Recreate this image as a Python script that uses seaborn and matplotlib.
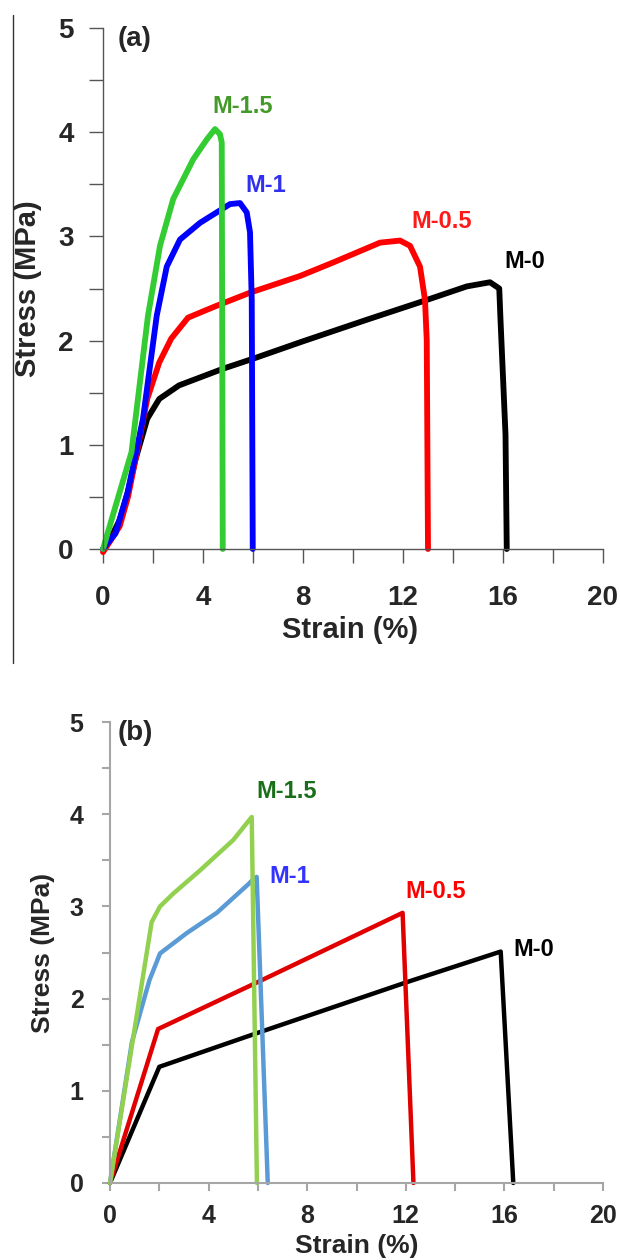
import numpy as np
import pandas as pd
import matplotlib
matplotlib.use("Agg")
import matplotlib.pyplot as plt
from matplotlib.lines import Line2D
import seaborn as sns

# ---------------- data: panel (a) ----------------
a_m0_strain = [0, 0.3, 0.67, 1.0, 1.3, 1.77, 2.25, 3.04, 4.8, 6.05, 7.96, 10.55, 12.95, 14.55, 15.48, 15.85, 15.9, 16.1, 16.15]
a_m0_stress = [0, 0.1, 0.28, 0.55, 0.86, 1.25, 1.44, 1.57, 1.73, 1.83, 1.99, 2.20, 2.39, 2.52, 2.56, 2.5, 2.2, 1.1, 0]

a_m05_strain = [0, 0.3, 0.67, 1.0, 1.3, 1.77, 2.25, 2.73, 3.4, 4.5, 5.88, 7.88, 9.21, 11.08, 11.88, 12.28, 12.68, 12.88, 12.95, 13.0]
a_m05_stress = [-0.03, 0.08, 0.22, 0.5, 0.86, 1.44, 1.79, 2.02, 2.22, 2.33, 2.46, 2.62, 2.75, 2.94, 2.96, 2.91, 2.71, 2.39, 2.0, 0]

a_m1_strain = [0, 0.5, 0.98, 1.3, 1.6, 2.15, 2.55, 3.08, 3.88, 5.08, 5.48, 5.75, 5.88, 5.95, 5.99]
a_m1_stress = [0, 0.15, 0.54, 0.9, 1.25, 2.24, 2.71, 2.97, 3.13, 3.31, 3.32, 3.23, 3.04, 2.39, 0]

a_m15_strain = [0, 0.5, 1.14, 1.8, 2.28, 2.81, 3.61, 4.15, 4.48, 4.68, 4.75, 4.79]
a_m15_stress = [0, 0.41, 0.93, 2.24, 2.91, 3.36, 3.74, 3.93, 4.03, 3.98, 3.9, 0]

# ---------------- data: panel (b) ----------------
b_m0_strain = [0, 2.0, 5.9, 12.06, 15.85, 16.36]
b_m0_stress = [0, 1.26, 1.62, 2.18, 2.51, 0]

b_m05_strain = [0, 1.95, 6.0, 11.87, 12.31]
b_m05_stress = [0, 1.67, 2.18, 2.93, 0]

b_m1_strain = [0, 0.89, 1.6, 2.03, 3.11, 4.33, 5.61, 5.72, 5.95, 6.4]
b_m1_stress = [0, 1.53, 2.2, 2.49, 2.71, 2.93, 3.24, 3.27, 3.32, 0]

b_m15_strain = [0, 1.69, 2.03, 2.57, 3.65, 5.0, 5.75, 5.96]
b_m15_stress = [0, 2.83, 3.0, 3.14, 3.39, 3.72, 3.97, 0]

samples = ["M-0", "M-0.5", "M-1", "M-1.5"]
x_ticks_major = [0, 4, 8, 12, 16, 20]
y_ticks_major = [0, 1, 2, 3, 4, 5]

colors_a = {"M-0": "#000000", "M-0.5": "#ff0000", "M-1": "#0000ff", "M-1.5": "#33cc33"}
text_colors_a = {"M-0": "#000000", "M-0.5": "#ff1a1a", "M-1": "#3030ee", "M-1.5": "#449a28"}
label_pos_a = {"M-0": (16.88, 2.76), "M-0.5": (13.55, 3.14), "M-1": (6.52, 3.49), "M-1.5": (5.6, 4.25)}

colors_b = {"M-0": "#000000", "M-0.5": "#e00000", "M-1": "#5b9bd5", "M-1.5": "#92d050"}
text_colors_b = {"M-0": "#000000", "M-0.5": "#ff0000", "M-1": "#3333ff", "M-1.5": "#1a6e1a"}
label_pos_b = {"M-0": (17.2, 2.53), "M-0.5": (13.22, 3.16), "M-1": (7.28, 3.32), "M-1.5": (7.16, 4.25)}


def make_df(series):
    frames = []
    for name, (xs, ys) in series.items():
        frames.append(pd.DataFrame({"strain": xs, "stress": ys, "sample": name,
                                    "order": np.arange(len(xs))}))
    return pd.concat(frames, ignore_index=True)


df_a = make_df({"M-0": (a_m0_strain, a_m0_stress), "M-0.5": (a_m05_strain, a_m05_stress),
                "M-1": (a_m1_strain, a_m1_stress), "M-1.5": (a_m15_strain, a_m15_stress)})
df_b = make_df({"M-0": (b_m0_strain, b_m0_stress), "M-0.5": (b_m05_strain, b_m05_stress),
                "M-1": (b_m1_strain, b_m1_stress), "M-1.5": (b_m15_strain, b_m15_stress)})

sns.set_theme(style="white")
plt.rcParams["font.family"] = ["Liberation Sans", "DejaVu Sans"]
plt.rcParams["font.weight"] = "bold"

W, H = 620, 1260
fig = plt.figure(figsize=(W / 100, H / 100), dpi=100)


def px_axes(left, top, right, bottom):
    return fig.add_axes([left / W, 1 - bottom / H, (right - left) / W, (bottom - top) / H])


ax_a = px_axes(103, 28, 603, 549)
ax_b = px_axes(110, 722, 603, 1183)


def style_axis(ax, spine_color, spine_w, tick_len, tick_fs, xpad, ypad):
    ax.set_xlim(0, 20)
    ax.set_ylim(0, 5)
    ax.set_xticks(x_ticks_major)
    ax.set_xticks([2, 6, 10, 14, 18], minor=True)
    ax.set_yticks(y_ticks_major)
    ax.set_yticks([0.5, 1.5, 2.5, 3.5, 4.5], minor=True)
    for s in ["top", "right"]:
        ax.spines[s].set_visible(False)
    for s in ["left", "bottom"]:
        ax.spines[s].set_color(spine_color)
        ax.spines[s].set_linewidth(spine_w)
    ax.tick_params(axis="both", which="both", direction="out", length=tick_len,
                   width=spine_w, color=spine_color, bottom=True, left=True)
    ax.tick_params(axis="x", which="major", pad=xpad, labelsize=tick_fs)
    ax.tick_params(axis="y", which="major", pad=ypad, labelsize=tick_fs)
    for lab in ax.get_xticklabels() + ax.get_yticklabels():
        lab.set_fontweight("bold")
    ax.set_facecolor("white")
    ax.grid(False)


# Panel (a)
sns.lineplot(data=df_a, x="strain", y="stress", hue="sample", palette=colors_a,
             hue_order=samples, units="sample", estimator=None, sort=False,
             linewidth=4.2, legend=False, ax=ax_a, clip_on=False)
style_axis(ax_a, "#555555", 1.0, 10, 20, 16, 11)
ax_a.set_xlabel("Strain (%)", fontsize=21, fontweight="bold")
ax_a.set_ylabel("Stress (MPa)", fontsize=21, fontweight="bold")
ax_a.xaxis.set_label_coords(0.5 - 3 / 500, -0.128)
ax_a.yaxis.set_label_coords(-0.122, 0.5)
ax_a.text(0.6, 5.02, "(a)", fontsize=20, fontweight="bold", va="top", ha="left")
for name in samples:
    x, y = label_pos_a[name]
    ax_a.text(x, y, name, color=text_colors_a[name], fontsize=17, fontweight="bold",
              ha="center", va="center")

# Panel (b)
sns.lineplot(data=df_b, x="strain", y="stress", hue="sample", palette=colors_b,
             hue_order=samples, units="sample", estimator=None, sort=False,
             linewidth=3.2, legend=False, ax=ax_b, clip_on=False)
style_axis(ax_b, "#a6a6a6", 1.5, 6, 18, 9, 13)
ax_b.set_xlabel("Strain (%)", fontsize=19, fontweight="bold")
ax_b.set_ylabel("Stress (MPa)", fontsize=19, fontweight="bold")
ax_b.xaxis.set_label_coords(0.5, -0.11)
ax_b.yaxis.set_label_coords(-0.112, 0.5)
ax_b.text(0.32, 5.02, "(b)", fontsize=20, fontweight="bold", va="top", ha="left")
for name in samples:
    x, y = label_pos_b[name]
    ax_b.text(x, y, name, color=text_colors_b[name], fontsize=17, fontweight="bold",
              ha="center", va="center")

# stray frame line at left of panel (a)
fig.add_artist(Line2D([12.5 / W, 12.5 / W], [1 - 15 / H, 1 - 663 / H],
                      transform=fig.transFigure, color="#333333", linewidth=1.0))

fig.savefig("out.png", dpi=100, facecolor="white")
